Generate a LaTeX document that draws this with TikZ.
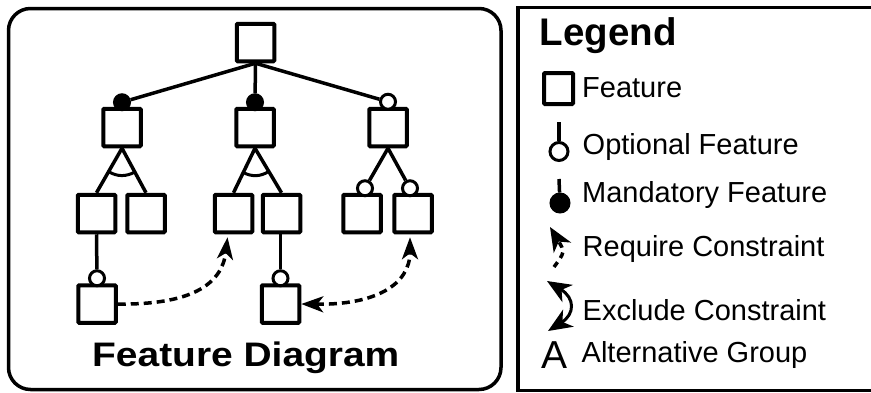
\documentclass[tikz,border=0pt]{standalone}
\usepackage{fontspec}
\setmainfont{Liberation Sans}
\usetikzlibrary{arrows.meta,calc}
\begin{document}
\begin{tikzpicture}[x=1pt,y=-1pt,
  feat/.style={draw, line width=4pt, rectangle, minimum size=37.5pt, inner sep=0pt, rounded corners=1pt},
  conn/.style={line width=3.5pt},
  opt/.style={circle, draw, fill=white, line width=3pt, minimum size=15pt, inner sep=0pt},
  mand/.style={circle, draw, fill=black, line width=3pt, minimum size=15pt, inner sep=0pt},
  req/.style={line width=3.5pt, dash pattern=on 8pt off 5pt, -{Stealth[length=22pt,width=16pt,inset=6pt]}},
  excl/.style={line width=3.5pt, dash pattern=on 8pt off 5pt, {Stealth[length=22pt,width=16pt,inset=6pt]}-{Stealth[length=22pt,width=16pt,inset=6pt]}},
  legtext/.style={anchor=base west, inner sep=0pt, font=\fontsize{29}{29}\selectfont},
  panel/.style={line width=3.5pt}
]
\useasboundingbox (0,0) rectangle (871,392);
\clip (0,0) rectangle (871,392);

% panels
\draw[panel, rounded corners=22pt] (8.5,8.5) rectangle (501,389.5);
\draw[panel] (518,7.5) rectangle (890,390.5);

% feature nodes
\node[feat] (root) at (255.5,42.5) {};
\node[feat] (A) at (122,127.5) {};
\node[feat] (B) at (255,127.5) {};
\node[feat] (C) at (388,127.5) {};
\node[feat] (A1) at (96.5,213.5) {};
\node[feat] (A2) at (146,213.5) {};
\node[feat] (B1) at (233.5,213.5) {};
\node[feat] (B2) at (281.5,213.5) {};
\node[feat] (C1) at (362,213.5) {};
\node[feat] (C2) at (413,213.5) {};
\node[feat] (A1x) at (97,304) {};
\node[feat] (B2x) at (280.5,304) {};

% variability circles
\node[mand] (m1) at ($(A.north)+(0,-4.5)$) {};
\node[mand] (m2) at ($(B.north)+(0,-4.5)$) {};
\node[opt] (o3) at ($(C.north)+(0,-5)$) {};
\node[opt] (o4) at ($(C1.north)+(3,-4.5)$) {};
\node[opt] (o5) at ($(C2.north)+(-3,-4.5)$) {};
\node[opt] (o6) at ($(A1x.north)+(0,-5)$) {};
\node[opt] (o7) at ($(B2x.north)+(0,-5)$) {};

% tree connectors
\draw[conn] (root.south) -- (m1);
\draw[conn] (root.south) -- (m2);
\draw[conn] (root.south) -- (o3);
\draw[conn] (A.south) -- (A1.north);
\draw[conn] (A.south) -- (A2.north);
\draw[conn, line width=3pt] ($(A.south)!27pt!(A1.north)$) to[bend right=29] ($(A.south)!27pt!(A2.north)$);
\draw[conn] (B.south) -- (B1.north);
\draw[conn] (B.south) -- (B2.north);
\draw[conn, line width=3pt] ($(B.south)!27pt!(B1.north)$) to[bend right=29] ($(B.south)!27pt!(B2.north)$);
\draw[conn] (C.south) -- (o4);
\draw[conn] (C.south) -- (o5);
\draw[conn] (A1.south) -- (o6);
\draw[conn] ($(B2.south)+(-1,0)$) -- (o7);

% constraints
\coordinate (t1) at ($(B1.south)+(-6,3)$);
\draw[req] (A1x.east) .. controls (190,305) and (222,285) .. (t1);
\coordinate (t2) at ($(C2.south)+(-3,3)$);
\draw[excl] (B2x.east) .. controls (375,305) and (410,285) .. (t2);

% caption
\node[anchor=base west, inner sep=0pt, font=\bfseries\fontsize{34}{34}\selectfont] (cap) at (92,366) {\scalebox{1.145}[1]{Feature Diagram}};

% legend
\node[anchor=base west, inner sep=0pt, font=\bfseries\fontsize{38.5}{38.5}\selectfont] (lt) at (539.5,45) {Legend};

\node[feat, minimum width=29pt, minimum height=31pt] (lf) at (558.5,88.5) {};
\node[legtext] (lft) at (582,97) {Feature};

\coordinate (lo0) at (559,122);
\node[opt, minimum size=18pt] (lo) at (559,151.5) {};
\draw[conn] (lo0) -- (lo);
\node[legtext] (lot) at (582.5,154.5) {Optional Feature};

\coordinate (lm0) at (559,179);
\node[mand, minimum size=18pt] (lm) at (560,203) {};
\draw[conn] (lm0) -- (lm);
\node[legtext] (lmt) at (582,202) {Mandatory Feature};

\coordinate (rq0) at (554,267);
\coordinate (rq1) at (550,227);
\draw[line width=3.5pt, dash pattern=on 6pt off 5pt, -{Stealth[length=24pt,width=20pt,inset=7pt]}] (rq0) .. controls (565,252) .. (rq1);
\node[legtext] (lrt) at (582.5,256) {Require Constraint};

\coordinate (ex0) at (547,281);
\coordinate (ex1) at (548,331);
\draw[line width=3pt, {Stealth[length=24pt,width=20pt,inset=7pt]}-{Stealth[length=24pt,width=20pt,inset=7pt]}] (ex0) .. controls (575,298) and (575,314) .. (ex1);
\node[legtext] (let) at (582.5,320) {Exclude Constraint};

\node[anchor=base west, inner sep=0pt, font=\fontsize{39}{39}\selectfont] (la) at (541.5,368) {A};
\node[legtext] (lat) at (581.5,362) {Alternative Group};
\end{tikzpicture}
\end{document}
